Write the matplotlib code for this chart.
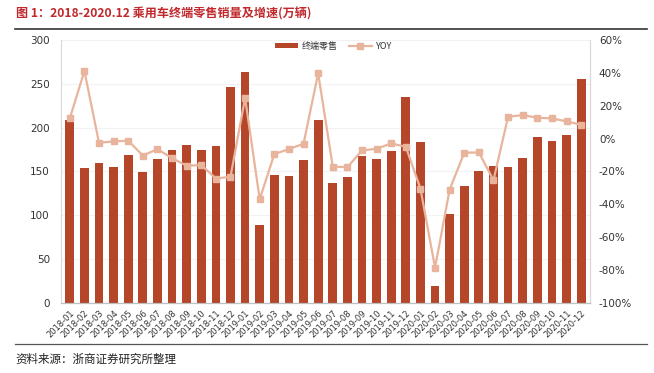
import matplotlib
matplotlib.use("Agg")
import matplotlib.pyplot as plt
from matplotlib.ticker import FuncFormatter
import numpy as np

plt.rcParams['font.family'] = ['Noto Sans CJK SC', 'DejaVu Sans']

months = ["2018-01","2018-02","2018-03","2018-04","2018-05","2018-06","2018-07","2018-08","2018-09","2018-10","2018-11","2018-12",
          "2019-01","2019-02","2019-03","2019-04","2019-05","2019-06","2019-07","2019-08","2019-09","2019-10","2019-11","2019-12",
          "2020-01","2020-02","2020-03","2020-04","2020-05","2020-06","2020-07","2020-08","2020-09","2020-10","2020-11","2020-12"]
sales = [209, 154.5, 160, 155, 168.5, 149, 164.5, 174.5, 180.5, 175, 179, 246.5,
         263, 88.5, 146, 145, 163.5, 208.5, 137, 144, 167.5, 164.5, 173.5, 234.5,
         184, 19, 101, 133, 150.5, 156, 155.5, 165, 189, 184.5, 192, 255]
yoy = [12.3, 41.1, -2.5, -1.7, -1.3, -10.3, -6.4, -11.9, -16.5, -16.1, -24.3, -23.2,
       24.7, -36.9, -9.4, -6.4, -3.1, 39.7, -17.0, -17.4, -7.2, -6.2, -2.9, -5.0,
       -30.4, -78.5, -31.0, -8.6, -8.4, -25.3, 13.3, 14.3, 12.7, 12.3, 10.5, 8.4]
bar_label = "终端零售"
line_label = "YOY"
title = "图 1：2018-2020.12 乘用车终端零售销量及增速(万辆)"
source = "资料来源：浙商证券研究所整理"

bar_color = "#B5462A"
line_color = "#E9B49C"

fig = plt.figure(figsize=(6.54, 3.73), dpi=100)
ax = fig.add_axes([0.0933, 0.1877, 0.8087, 0.7051])
ax2 = ax.twinx()

x = np.arange(len(months))
b = ax.bar(x, sales, width=0.6, color=bar_color, label=bar_label, zorder=2)
l, = ax2.plot(x, yoy, color=line_color, lw=1.6, marker='s', markersize=4.5,
              markerfacecolor=line_color, markeredgecolor=line_color, label=line_label, zorder=3)

ax.set_xlim(-0.6, len(months) - 0.4)
ax.set_ylim(0, 300)
ax.set_yticks(np.arange(0, 301, 50))
ax2.set_ylim(-100, 60)
ax2.set_yticks(np.arange(-100, 61, 20))
ax2.yaxis.set_major_formatter(FuncFormatter(lambda v, p: f"{int(v)}%"))

ax.set_xticks(x)
ax.set_xticklabels(months, rotation=45, ha='right', rotation_mode='anchor', fontsize=6, color='#333333',
                   family=['DejaVu Sans'])
ax.tick_params(axis='x', length=0, pad=4)
ax.tick_params(axis='y', length=0, labelsize=7.5, colors='#333333', pad=8)
ax2.tick_params(axis='y', length=0, labelsize=7.5, colors='#333333', pad=6.5)
for t in ax.get_yticklabels() + ax2.get_yticklabels():
    t.set_family(['DejaVu Sans'])

ax.grid(axis='y', color='#f2f2f2', lw=0.8, zorder=0)
ax.set_axisbelow(True)

for a in (ax, ax2):
    a.spines['top'].set_visible(False)
    a.spines['left'].set_color('#d9d9d9')
    a.spines['right'].set_color('#d9d9d9')
    a.spines['bottom'].set_color('#bfbfbf')
ax2.spines['left'].set_visible(False)

leg = ax.legend([b, l], [bar_label, line_label], loc='upper center', bbox_to_anchor=(0.515, 1.025),
                ncol=2, frameon=False, fontsize=6.5, handlelength=2.6, handleheight=0.45, columnspacing=1.2,
                handletextpad=0.4)
for t in leg.get_texts():
    t.set_color('#333333')

fig.text(0.024, 0.962, title, fontsize=8.7, fontweight='bold', color='#C0282B', va='center', ha='left')
fig.add_artist(plt.Line2D([0.023, 0.989], [0.922, 0.922], color='#333333', lw=1.2, transform=fig.transFigure))
fig.add_artist(plt.Line2D([0.023, 0.989], [0.078, 0.078], color='#555555', lw=0.9, transform=fig.transFigure))
fig.text(0.024, 0.038, source, fontsize=8.3, color='#222222', va='center', ha='left')

fig.savefig("out.png", dpi=100)
